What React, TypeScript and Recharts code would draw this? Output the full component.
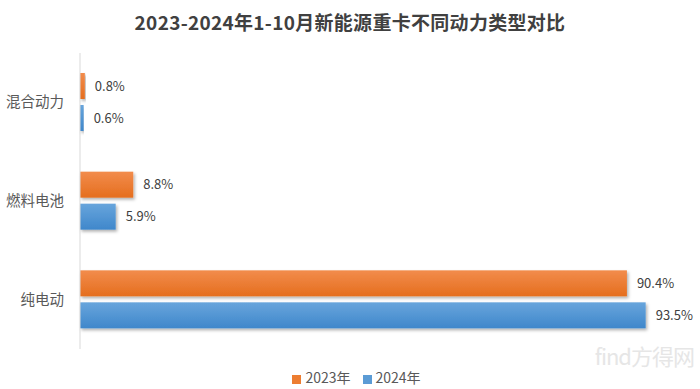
import { Bar, BarChart, LabelList, Legend, XAxis, YAxis } from "recharts";

const TYPES = ["混合动力", "燃料电池", "纯电动"];
const SHARE_2023 = [0.8, 8.8, 90.4];
const SHARE_2024 = [0.6, 5.9, 93.5];

const ORANGE = "#ED7D31";
const BLUE = "#5B9BD5";
const FONT = "'Noto Sans CJK SC', 'Noto Sans', sans-serif";

const data = TYPES.map((t, i) => ({ type: t, y2023: SHARE_2023[i], y2024: SHARE_2024[i] }));

const pct = (v: any) => `${Number(v).toFixed(1)}%`;

export default function App() {
  return (
    <div style={{ position: "fixed", left: 0, top: 0, width: 700, height: 389, background: "#fff", fontFamily: FONT }}>
      <div
        style={{
          position: "absolute",
          top: 8,
          left: 0,
          width: 700,
          textAlign: "center",
          fontSize: 19,
          fontWeight: 700,
          color: "#404040",
          letterSpacing: 0.3,
        }}
      >
        2023-2024年1-10月新能源重卡不同动力类型对比
      </div>
      <BarChart
        width={700}
        height={389}
        data={data}
        layout="vertical"
        margin={{ top: 53, right: 15, bottom: 20, left: 0 }}
        barCategoryGap={20}
        barGap={6}
      >
        <defs>
          <linearGradient id="gOrange" x1="0" y1="0" x2="0" y2="1">
            <stop offset="0%" stopColor="#F28C4C" />
            <stop offset="100%" stopColor="#E56E1E" />
          </linearGradient>
          <linearGradient id="gBlue" x1="0" y1="0" x2="0" y2="1">
            <stop offset="0%" stopColor="#68A5DC" />
            <stop offset="100%" stopColor="#3F87CB" />
          </linearGradient>
          <filter id="shadow" x="-5%" y="-20%" width="115%" height="160%">
            <feDropShadow dx="1.5" dy="2" stdDeviation="1.5" floodColor="#000" floodOpacity="0.3" />
          </filter>
        </defs>
        <XAxis type="number" domain={[0, 100]} hide />
        <YAxis
          type="category"
          dataKey="type"
          width={80}
          tickLine={false}
          tickSize={0}
          tickMargin={16}
          axisLine={{ stroke: "#d9d9d9" }}
          tick={{ fill: "#595959", fontSize: 14.5, fontFamily: FONT }}
        />
        <Legend
          verticalAlign="bottom"
          align="center"
          iconType="square"
          iconSize={9}
          wrapperStyle={{ fontSize: 14, fontFamily: FONT, bottom: 2, left: 20 }}
          formatter={(v: any) => <span style={{ color: "#595959", marginRight: 2 }}>{v}</span>}
        />
        <Bar dataKey="y2023" name="2023年" fill={ORANGE} barSize={26} isAnimationActive={false} shape={(p: any) => (
          <rect x={p.x} y={p.y} width={Math.max(p.width, 0)} height={p.height} fill="url(#gOrange)" filter="url(#shadow)" />
        )}>
          <LabelList dataKey="y2023" position="right" offset={10} formatter={pct} fill="#404040" fontSize={13} fontFamily={FONT} />
        </Bar>
        <Bar dataKey="y2024" name="2024年" fill={BLUE} barSize={26} isAnimationActive={false} shape={(p: any) => (
          <rect x={p.x} y={p.y} width={Math.max(p.width, 0)} height={p.height} fill="url(#gBlue)" filter="url(#shadow)" />
        )}>
          <LabelList dataKey="y2024" position="right" offset={10} formatter={pct} fill="#404040" fontSize={13} fontFamily={FONT} />
        </Bar>
      </BarChart>
      <div
        style={{
          position: "absolute",
          right: 6,
          bottom: 18,
          fontSize: 22,
          color: "#e6e6e6",
          fontFamily: FONT,
          letterSpacing: -1,
        }}
      >
        find方得网
      </div>
    </div>
  );
}
